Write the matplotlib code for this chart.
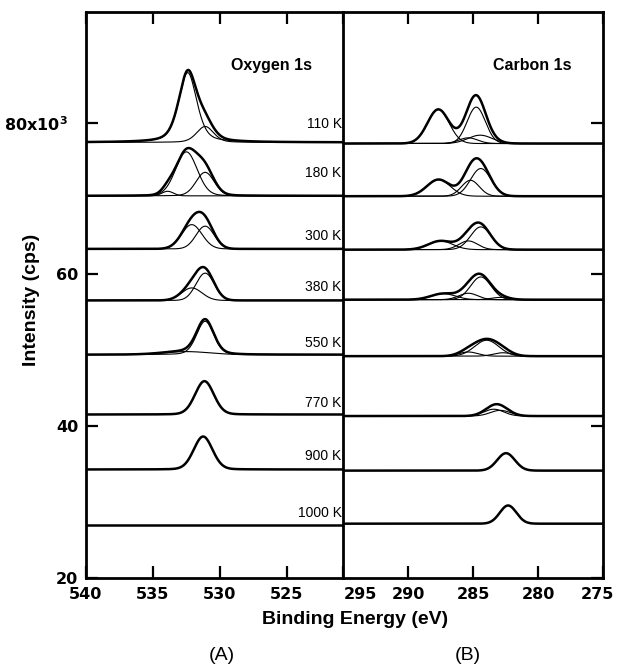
import numpy as np
import matplotlib
matplotlib.use('Agg')
import matplotlib.pyplot as plt
from matplotlib.transforms import ScaledTranslation

plt.rcParams['font.family'] = ['Liberation Sans', 'DejaVu Sans']

# ---------------- data ----------------
temps = ['110 K', '180 K', '300 K', '380 K', '550 K', '770 K', '900 K', '1000 K']

# baseline intensity (kcps) of each spectrum
o_baseline = [77.4, 70.35, 63.35, 56.55, 49.4, 41.5, 34.25, 26.95]
c_baseline = [77.25, 70.3, 63.25, 56.65, 49.2, 41.3, 34.1, 27.1]

# fitted components: (binding energy eV, height kcps, FWHM eV, Lorentzian fraction)
o_peaks = [
    [(532.4, 9.2, 1.6, 0.45), (531.1, 2.1, 1.5, 0.3)],
    [(532.5, 5.8, 1.9, 0.1), (531.1, 3.1, 1.6, 0.1), (533.9, 0.6, 1.0, 0.0)],
    [(532.1, 3.2, 1.8, 0.0), (531.1, 3.0, 1.6, 0.0)],
    [(532.1, 1.65, 1.8, 0.0), (531.1, 3.6, 1.6, 0.0)],
    [(531.1, 4.4, 1.5, 0.2), (532.5, 0.4, 4.0, 0.0)],
    [(531.15, 4.4, 1.65, 0.1)],
    [(531.25, 4.35, 1.65, 0.1)],
    [],
]
c_peaks = [
    [(287.67, 4.5, 1.95, 0.0), (284.75, 4.8, 1.65, 0.0), (284.45, 1.1, 2.2, 0.0), (285.36, 0.75, 1.7, 0.0)],
    [(287.65, 2.2, 2.1, 0.0), (284.4, 3.65, 1.85, 0.0), (285.2, 2.1, 1.6, 0.0)],
    [(287.5, 1.15, 2.2, 0.0), (284.4, 3.0, 1.85, 0.0), (285.36, 1.15, 1.7, 0.0)],
    [(287.3, 0.8, 2.2, 0.0), (284.4, 3.0, 1.85, 0.0), (285.36, 0.85, 1.7, 0.0), (282.9, 0.3, 1.6, 0.0)],
    [(283.95, 2.1, 2.2, 0.0), (285.36, 0.55, 1.7, 0.0), (282.7, 0.45, 1.7, 0.0)],
    [(283.4, 0.9, 1.8, 0.0), (282.9, 0.75, 1.8, 0.0)],
    [(282.46, 2.3, 1.6, 0.0)],
    [(282.3, 2.4, 1.5, 0.0)],
]

# vertical position (kcps) of the temperature labels
label_y = [79.8, 73.3, 65.0, 58.3, 50.9, 43.0, 36.0, 28.45]

o_ticks = [540, 535, 530, 525]
c_ticks = [295, 290, 285, 280, 275]
y_ticks = [20, 40, 60, 80]
y_ticklabels = ['20', '40', '60', r'80x10$^{\mathbf{3}}$']


def component(e, centre, height, fwhm, eta):
    u = (e - centre) / fwhm
    gauss = np.exp(-4 * np.log(2) * u ** 2)
    lorentz = 1.0 / (1.0 + 4 * u ** 2)
    return height * (eta * lorentz + (1 - eta) * gauss)


W, H = 618, 668
fig = plt.figure(figsize=(W / 100, H / 100), dpi=100)
bottom = 1 - 577.5 / H
height = 565.5 / H
ax1 = fig.add_axes([86 / W, bottom, 257 / W, height])
ax2 = fig.add_axes([343 / W, bottom, 260 / W, height], sharey=ax1)

ax1.set_xlim(540, 520.8)
ax2.set_xlim(295, 275)
ax1.set_ylim(20, 94.6)

e_o = np.linspace(540, 520.8, 800)
e_c = np.linspace(295, 275, 800)

for ax, e, bases, peaks in [(ax1, e_o, o_baseline, o_peaks), (ax2, e_c, c_baseline, c_peaks)]:
    for base, comps in zip(bases, peaks):
        total = np.full_like(e, base)
        for p in comps:
            y = component(e, *p)
            total += y
            if len(comps) > 1:
                ax.plot(e, base + y, color='black', lw=0.8, zorder=2)
        ax.plot(e, total, color='black', lw=1.8, zorder=3)

for t, ly in zip(temps, label_y):
    ax1.text(0.995, ly, t, transform=ax1.get_yaxis_transform(), ha='right', va='center',
             fontsize=10, color='black')

ax1.text(0.72, 0.905, 'Oxygen 1s', transform=ax1.transAxes, ha='center', va='center',
         fontsize=11.5, fontweight='bold')
ax2.text(0.728, 0.905, 'Carbon 1s', transform=ax2.transAxes, ha='center', va='center',
         fontsize=11.5, fontweight='bold')

tick_font = dict(family='DejaVu Sans', weight='bold', size=11.5)

ax1.set_xticks(o_ticks)
ax1.set_xticklabels([str(v) for v in o_ticks], fontdict=tick_font)
ax2.set_xticks(c_ticks)
ax2.set_xticklabels([str(v) for v in c_ticks], fontdict=tick_font)
ax1.set_yticks(y_ticks)
ax1.set_yticklabels(y_ticklabels, fontdict=tick_font)

for ax in (ax1, ax2):
    ax.tick_params(axis='x', direction='in', top=True, bottom=True, length=8.5, width=1.6, pad=7)
    for s in ax.spines.values():
        s.set_linewidth(2.0)
ax1.tick_params(axis='y', direction='in', left=True, right=False, length=8.5, width=1.6, pad=5.5)
ax2.tick_params(axis='y', direction='in', left=False, right=True, labelleft=False,
                length=8.5, width=1.6)
ax1.spines['right'].set_visible(False)

# shift edge labels: "295" off the divider, "275" inside the figure, "80x10^3" to the left
lab295 = ax2.xaxis.get_major_ticks()[0].label1
lab295.set_transform(lab295.get_transform() + ScaledTranslation(0.17, 0, fig.dpi_scale_trans))
lab275 = ax2.xaxis.get_major_ticks()[4].label1
lab275.set_transform(lab275.get_transform() + ScaledTranslation(-0.06, 0, fig.dpi_scale_trans))
lab80 = ax1.yaxis.get_major_ticks()[3].label1
lab80.set_transform(lab80.get_transform() + ScaledTranslation(-0.11, 0, fig.dpi_scale_trans))

fig.text(355 / W, 1 - 619 / H, 'Binding Energy (eV)', ha='center', va='center',
         fontsize=14, fontweight='bold')
fig.text(31 / W, 1 - 300 / H, 'Intensity (cps)', ha='center', va='center', rotation=90,
         fontsize=14, fontweight='bold')
fig.text(222 / W, 1 - 656 / H, '(A)', ha='center', va='center', fontsize=14)
fig.text(468 / W, 1 - 656 / H, '(B)', ha='center', va='center', fontsize=14)

fig.savefig('out.png', dpi=100)
